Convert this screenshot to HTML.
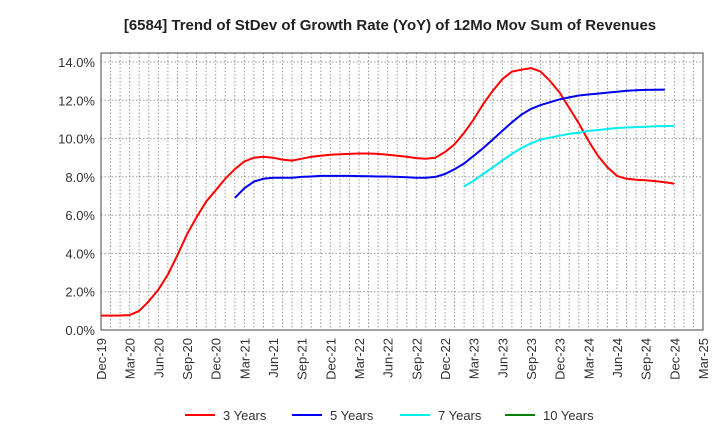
<!DOCTYPE html>
<html><head><meta charset="utf-8"><style>
body{margin:0;background:#fff;}
svg{display:block;font-family:"Liberation Sans",Arial,sans-serif;}
</style></head><body>
<svg id="chart" width="720" height="440">
<text x="390" y="30" text-anchor="middle" font-size="15" font-weight="bold" fill="#222">[6584]  Trend of StDev of Growth Rate (YoY) of 12Mo Mov Sum of Revenues</text>
<g id="grid"></g><g id="axes"></g><g id="series"></g><g id="legend"></g>
</svg>
<script>
const xTickLabels=["Dec-19","Mar-20","Jun-20","Sep-20","Dec-20","Mar-21","Jun-21","Sep-21","Dec-21","Mar-22","Jun-22","Sep-22","Dec-22","Mar-23","Jun-23","Sep-23","Dec-23","Mar-24","Jun-24","Sep-24","Dec-24","Mar-25"];
const yTicks=[0,2,4,6,8,10,12,14];
const seriesNames=["3 Years","5 Years","7 Years","10 Years"];
const seriesColors=["#ff0000","#0000ee","#00eeee","#008000"];
const start3=0;
const values3=[0.75,0.75,0.76,0.78,1.0,1.5,2.1,2.9,3.9,5.0,5.9,6.7,7.3,7.9,8.4,8.8,9.0,9.05,9.0,8.9,8.85,8.95,9.05,9.1,9.15,9.18,9.2,9.22,9.22,9.2,9.15,9.1,9.05,8.98,8.95,9.0,9.3,9.7,10.3,11.0,11.8,12.5,13.1,13.5,13.6,13.68,13.5,13.0,12.4,11.6,10.8,9.9,9.1,8.5,8.05,7.9,7.85,7.82,7.78,7.72,7.65];
const start5=14;
const values5=[6.9,7.4,7.75,7.9,7.95,7.95,7.95,8.0,8.02,8.05,8.05,8.05,8.05,8.04,8.03,8.02,8.02,8.0,7.98,7.95,7.95,8.0,8.15,8.4,8.7,9.1,9.5,9.95,10.4,10.85,11.25,11.55,11.75,11.9,12.05,12.15,12.25,12.3,12.35,12.4,12.45,12.5,12.52,12.54,12.55,12.56];
const start7=38;
const values7=[7.5,7.8,8.15,8.5,8.85,9.2,9.5,9.75,9.95,10.05,10.15,10.25,10.3,10.4,10.45,10.5,10.55,10.58,10.6,10.62,10.64,10.65,10.66];
const start10=0;
const values10=[];
const L=101,R=703,T=53,B=330,YMAX=14,YTOP=62;
const xs=m=>L+m*(R-L)/63;
const ys=v=>B-v*(B-YTOP)/YMAX;
const NS="http://www.w3.org/2000/svg";
function mk(tag,attrs,parent){const e=document.createElementNS(NS,tag);for(const k in attrs)e.setAttribute(k,attrs[k]);parent.appendChild(e);return e;}
const grid=document.getElementById('grid'),axes=document.getElementById('axes'),ser=document.getElementById('series'),leg=document.getElementById('legend');
for(let m=1;m<63;m++){const l=mk('line',{x1:xs(m),x2:xs(m),y1:T,y2:B,stroke:'#999','stroke-dasharray':'1.5,2','stroke-width':1},grid);

}
yTicks.forEach(v=>{const l=mk('line',{x1:L,x2:R,y1:ys(v),y2:ys(v),stroke:'#999','stroke-dasharray':'1.5,2','stroke-width':1},grid);


const t=mk('text',{x:L-6,y:ys(v)+5,'text-anchor':'end','font-size':13,fill:'#333'},axes);t.textContent=v.toFixed(1)+'%';

});
xTickLabels.forEach((s,i)=>{const x=xs(i*3);const t=mk('text',{transform:`translate(${x+5},${B+8}) rotate(-90)`,'text-anchor':'end','font-size':13,fill:'#333'},axes);t.textContent=s;

});
const fr=mk('rect',{x:L,y:T,width:R-L,height:B-T,fill:'none',stroke:'#444','stroke-width':1},axes);


[[values3,start3],[values5,start5],[values7,start7],[values10,start10]].forEach((d,i)=>{if(!d[0].length)return;
const p=mk('polyline',{points:d[0].map((v,j)=>xs(d[1]+j).toFixed(1)+','+ys(v).toFixed(1)).join(' '),fill:'none',stroke:seriesColors[i],'stroke-width':2,'stroke-linejoin':'round'},ser);

});
const lx=[185,292,400,505];
seriesNames.forEach((n,i)=>{const g=mk('g',{},leg);


mk('line',{x1:lx[i],x2:lx[i]+30,y1:415,y2:415,stroke:seriesColors[i],'stroke-width':2},g);
const t=mk('text',{x:lx[i]+38,y:420,'font-size':13,fill:'#333'},g);t.textContent=n;});
</script>
</body></html>
